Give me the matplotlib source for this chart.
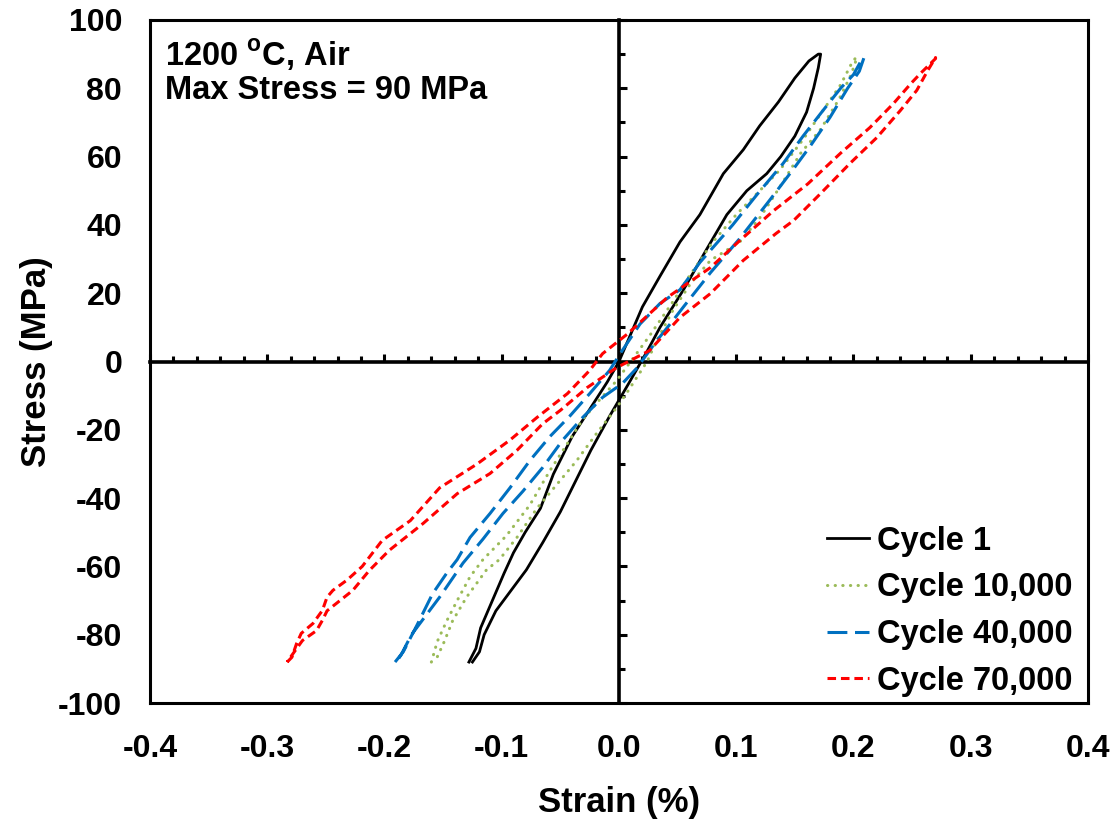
import matplotlib.pyplot as plt
from matplotlib.ticker import MultipleLocator

plt.rcParams['font.family'] = ['Liberation Sans', 'DejaVu Sans']
plt.rcParams['font.weight'] = 'bold'
plt.rcParams['axes.labelweight'] = 'bold'
plt.rcParams['axes.unicode_minus'] = False
plt.rcParams['mathtext.fontset'] = 'custom'
plt.rcParams['mathtext.rm'] = 'Liberation Sans:bold'
plt.rcParams['mathtext.bf'] = 'Liberation Sans:bold'

# Cycle 1: loading branch going up, then unloading branch going down
c1_strain = [-0.128, -0.122, -0.118, -0.108, -0.098, -0.090, -0.080, -0.067, -0.056, -0.040,
             -0.025, -0.010, 0.000, 0.010, 0.020, 0.035, 0.052, 0.069, 0.089, 0.106,
             0.120, 0.136, 0.150, 0.162, 0.170, 0.172,
             0.170, 0.166, 0.160, 0.150, 0.138, 0.126, 0.109, 0.092, 0.075, 0.055,
             0.035, 0.024, 0.009, -0.008, -0.024, -0.037, -0.050, -0.065, -0.079, -0.092,
             -0.105, -0.115, -0.119, -0.125]
c1_stress = [-88, -84, -78, -70, -62, -56, -50, -43, -33, -22,
             -14, -6, 0, 8, 16, 25, 35, 43, 55, 62,
             69, 76, 83, 88, 90, 90,
             86, 80, 73, 66, 60, 55, 50, 43, 33, 21,
             10, 3, -6, -16, -26, -35, -44, -53, -61, -67,
             -73, -80, -85, -88]

# Cycle 10,000
c2_strain = [-0.160, -0.155, -0.147, -0.138, -0.127, -0.116, -0.096, -0.076, -0.059, -0.044,
             -0.031, -0.016, -0.002, 0.010, 0.025, 0.045, 0.060, 0.080, 0.100, 0.120,
             0.137, 0.157, 0.174, 0.189, 0.198, 0.202,
             0.203, 0.198, 0.188, 0.172, 0.155, 0.137, 0.120, 0.103, 0.078, 0.061,
             0.046, 0.032, 0.024, 0.007, -0.002, -0.019, -0.036, -0.053, -0.070, -0.087,
             -0.102, -0.113, -0.130, -0.142, -0.149, -0.157]
c2_stress = [-88, -82, -76, -70, -63, -58, -51, -42, -32, -24,
             -17, -11, -5.6, 0, 7, 17, 25, 35, 43, 50,
             56, 65, 73.5, 81, 87, 89,
             89, 84, 77, 68, 61, 51, 42, 35, 29.6, 22.8,
             15, 6, 0, -9, -13.5, -21, -29, -36, -43, -51.5,
             -58, -61, -69, -76, -82, -88]

# Cycle 40,000
c3_strain = [-0.191, -0.184, -0.172, -0.159, -0.147, -0.138, -0.127, -0.110, -0.093, -0.076,
             -0.059, -0.042, -0.025, -0.008, 0.001, 0.018, 0.035, 0.052, 0.069, 0.097,
             0.118, 0.140, 0.157, 0.174, 0.189, 0.200, 0.208,
             0.209, 0.205, 0.195, 0.180, 0.163, 0.148, 0.128, 0.103, 0.078, 0.055,
             0.046, 0.032, 0.015, 0.003, -0.014, -0.031, -0.048, -0.065, -0.082, -0.099,
             -0.116, -0.133, -0.153, -0.177, -0.186, -0.190]
c3_stress = [-88, -85, -77, -68, -62, -58, -51.5, -44.5, -37, -29,
             -22, -16, -9.4, -2.6, 2.3, 11, 17, 21, 29, 40,
             49, 58, 66, 73.5, 80, 84, 89,
             89, 85, 80, 71.5, 63, 56, 47, 36, 26, 16,
             12, 6, -2, -6.4, -10.5, -16.4, -23, -31, -38, -44.5,
             -52, -59, -69, -80, -86, -88]

# Cycle 70,000
c4_strain = [-0.283, -0.279, -0.275, -0.271, -0.261, -0.253, -0.249, -0.244, -0.232, -0.219,
             -0.202, -0.178, -0.153, -0.121, -0.093, -0.070, -0.044, -0.025, -0.014, 0.007,
             0.041, 0.078, 0.103, 0.132, 0.161, 0.189, 0.214, 0.234, 0.249, 0.257, 0.270,
             0.270, 0.263, 0.254, 0.240, 0.220, 0.197, 0.172, 0.149, 0.134, 0.106,
             0.078, 0.052, 0.026, -0.002, -0.027, -0.050, -0.065, -0.087, -0.110, -0.138,
             -0.167, -0.196, -0.213, -0.227, -0.238, -0.249, -0.253, -0.258, -0.270, -0.279, -0.283]
c4_stress = [-88, -86.6, -82.6, -79.6, -76.7, -72.9, -69, -67, -64, -60,
             -52.4, -46.6, -37, -30, -23, -16.4, -9.4, -2.6, 2.3, 8,
             18.7, 27.5, 35.4, 44.2, 52, 61, 68.5, 75.5, 81.4, 84.3, 88.7,
             89, 85, 79.4, 73.5, 65.6, 58, 49.2, 41.3, 37.5, 29.6,
             19.9, 12.9, 3.2, -1.8, -7.6, -14.3, -18.2, -26, -32.8, -38.7,
             -47.4, -55.3, -61.2, -67, -70, -73, -75.8, -78.8, -81.7, -86, -88]

fig = plt.figure(figsize=(11.17, 8.19), dpi=100)
pos = [0.1343, 0.1416, 0.8397, 0.8340]

# axes crossing at zero, with their tick marks
axc = fig.add_axes(pos, zorder=0)
axc.set_xlim(-0.4, 0.4)
axc.set_ylim(-100, 100)
axc.spines['left'].set_position(('data', 0))
axc.spines['bottom'].set_position(('data', 0))
axc.spines['top'].set_visible(False)
axc.spines['right'].set_visible(False)
for s in ['left', 'bottom']:
    axc.spines[s].set_linewidth(2.6)
axc.xaxis.set_major_locator(MultipleLocator(0.1))
axc.xaxis.set_minor_locator(MultipleLocator(0.02))
axc.yaxis.set_major_locator(MultipleLocator(20))
axc.yaxis.set_minor_locator(MultipleLocator(10))
axc.tick_params(which='major', direction='in', length=6, width=2.2,
                labelbottom=False, labelleft=False)
axc.tick_params(which='minor', direction='in', length=4, width=2.2)
axc.patch.set_visible(False)

# main axes: box, labels, curves
ax = fig.add_axes(pos, zorder=1)
ax.patch.set_visible(False)
ax.set_xlim(-0.4, 0.4)
ax.set_ylim(-100, 100)
ax.xaxis.set_major_locator(MultipleLocator(0.1))
ax.yaxis.set_major_locator(MultipleLocator(20))
ax.xaxis.set_major_formatter(lambda v, p: f'{v:.1f}'.replace('-0.0', '0.0'))
ax.tick_params(length=0, labelsize=23)
ax.tick_params(axis='x', pad=22)
ax.tick_params(axis='y', pad=20)
for s in ax.spines.values():
    s.set_linewidth(2.2)

ax.plot(c1_strain, c1_stress, color='black', lw=2, label='Cycle 1')
ax.plot(c2_strain, c2_stress, color='#9BBB59', lw=2.2, linestyle=(0, (0.1, 2.4)),
        dash_capstyle='round', label='Cycle 10,000')
ax.plot(c3_strain, c3_stress, color='#0070C0', lw=2.2, linestyle=(0, (6.5, 2.5)),
        label='Cycle 40,000')
ax.plot(c4_strain, c4_stress, color='#FF0000', lw=2.2, linestyle=(0, (2.8, 1.6)),
        label='Cycle 70,000')

ax.set_xlabel('Strain (%)', fontsize=25, labelpad=16)
ax.set_ylabel('Stress (MPa)', fontsize=25, labelpad=4)

ax.text(0.016, 0.975, '1200 $^{\\rm o}$C, Air\nMax Stress = 90 MPa',
        transform=ax.transAxes, fontsize=23.5, va='top', ha='left', linespacing=1.1)

ax.legend(loc='lower right', frameon=False, fontsize=23.5, handlelength=1.3,
          handletextpad=0.25, labelspacing=0.48, borderaxespad=0.0,
          bbox_to_anchor=(0.998, -0.01))

fig.savefig('out.png', dpi=100)
